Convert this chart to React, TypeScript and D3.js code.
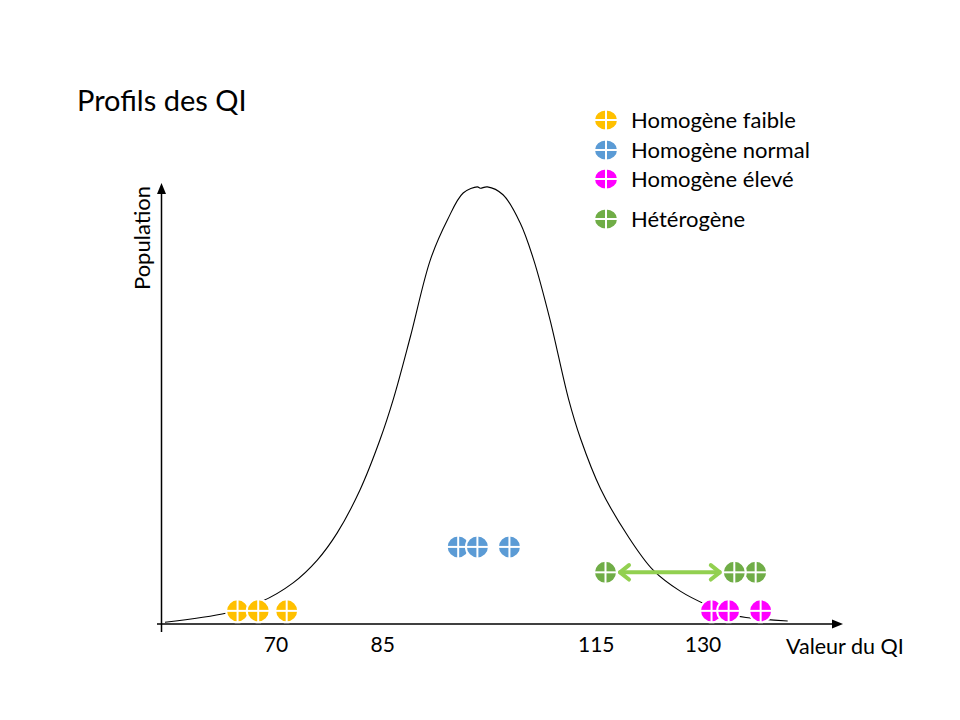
import React from "react";
import * as d3 from "d3";

// ---- Data ----
const title = "Profils des QI";
const xAxisLabel = "Valeur du QI";
const yAxisLabel = "Population";
const tickValues = [70, 85, 115, 130];

// Bell curve sketch: IQ value and relative population height (0..100)
const curveIQ = [54.4, 63.1, 67.8, 72.4, 75.8, 78.6, 81.8, 84.6, 86.5, 88.9, 91.7, 94.1, 96.3, 98.3, 98.7, 99.7, 101.9, 104.3, 106.2, 108.5, 111.1, 112.8, 115.6, 119.4, 123.0, 126.8, 130.6, 134.3, 141.9];
const curvePop = [0.4, 2.5, 5.0, 9.4, 14.6, 20.8, 30.6, 42.0, 51.4, 65.7, 83.2, 92.3, 98.4, 99.8, 99.5, 99.8, 98.0, 91.6, 83.2, 69.5, 51.4, 42.3, 30.9, 20.2, 12.3, 7.5, 4.3, 2.0, 0.7];

const seriesNames = ["Homogène faible", "Homogène normal", "Homogène élevé", "Hétérogène"];
const seriesColors = ["#FFC000", "#5B9BD5", "#FF00FF", "#70AD47"];
const faibleIQ = [64.6, 67.5, 71.5];
const normalIQ = [95.6, 98.3, 102.8];
const eleveIQ = [131.2, 133.6, 138.1];
const heteroIQ = [116.3, 134.4, 137.4];
const faibleLevel = 3.0;
const normalLevel = 17.6;
const eleveLevel = 3.0;
const heteroLevel = 11.8;

const FONT = "Lato, 'Open Sans', sans-serif";

export default function App() {
  const W = 960;
  const H = 720;
  const x = d3.scaleLinear().domain([70, 130]).range([276, 703]);
  const y = d3.scaleLinear().domain([0, 100]).range([624, 186]);

  const axisY0 = 624;
  const axisX0 = 161.5;

  const line = d3
    .line<number>()
    .x((_, i) => x(curveIQ[i]))
    .y((d) => y(d))
    .curve(d3.curveCatmullRom.alpha(0.5));

  const R = 11.5;
  const marker = (cx: number, cy: number, color: string, key: string, rx = R, ry = R) => (
    <g key={key}>
      <ellipse cx={cx} cy={cy} rx={rx} ry={ry} fill={color} stroke="#fff" strokeWidth={2} />
      <line x1={cx - rx} x2={cx + rx} y1={cy} y2={cy} stroke="#fff" strokeWidth={2} />
      <line x1={cx} x2={cx} y1={cy - ry} y2={cy + ry} stroke="#fff" strokeWidth={2} />
    </g>
  );

  const groups = [
    { vals: faibleIQ, level: faibleLevel, color: seriesColors[0], reverse: false },
    { vals: normalIQ, level: normalLevel, color: seriesColors[1], reverse: false },
    { vals: eleveIQ, level: eleveLevel, color: seriesColors[2], reverse: false },
    { vals: heteroIQ, level: heteroLevel, color: seriesColors[3], reverse: true },
  ];

  // double arrow between heterogeneous markers
  const ay = y(heteroLevel);
  const ax1 = x(heteroIQ[0]) + R + 3;
  const ax2 = x(heteroIQ[1]) - R - 3;
  const head = 9;

  const legendY = [120, 150, 179, 219];

  return (
    <svg
      width={W}
      height={H}
      style={{ position: "absolute", left: 0, top: 0, background: "#fff" }}
      fontFamily={FONT}
    >
      <rect width={W} height={H} fill="#fff" />
      <text x={77} y={111} fontSize={29} fill="#000">
        {title}
      </text>

      {/* axes */}
      <line x1={157} x2={834} y1={axisY0} y2={axisY0} stroke="#000" strokeWidth={1.5} />
      <path d={`M843,${axisY0} L832,${axisY0 - 4.5} L832,${axisY0 + 4.5} Z`} fill="#000" />
      <line x1={axisX0} x2={axisX0} y1={632} y2={192} stroke="#000" strokeWidth={1.5} />
      <path d={`M${axisX0},183 L${axisX0 - 4.5},194 L${axisX0 + 4.5},194 Z`} fill="#000" />

      {/* curve */}
      <path d={line(curvePop) || ""} fill="none" stroke="#000" strokeWidth={1.1} />

      {/* tick labels */}
      {tickValues.map((t) => (
        <text key={t} x={x(t)} y={652} textAnchor="middle" fontSize={21} fill="#000">
          {t}
        </text>
      ))}
      <text x={786} y={654} fontSize={21.5} fill="#000">
        {xAxisLabel}
      </text>
      <text
        transform={`translate(150,${238}) rotate(-90)`}
        textAnchor="middle"
        fontSize={22}
        fill="#000"
      >
        {yAxisLabel}
      </text>

      {/* arrow */}
      <g stroke="#92D050" strokeWidth={4} fill="none" strokeLinecap="round" strokeLinejoin="round">
        <line x1={ax1} x2={ax2} y1={ay} y2={ay} />
        <path d={`M${ax1 + head},${ay - head * 0.8} L${ax1},${ay} L${ax1 + head},${ay + head * 0.8}`} />
        <path d={`M${ax2 - head},${ay - head * 0.8} L${ax2},${ay} L${ax2 - head},${ay + head * 0.8}`} />
      </g>

      {/* markers */}
      {groups.map((g, gi) => {
        const vals = g.reverse ? [...g.vals].reverse() : g.vals;
        return (
          <g key={gi}>
            {vals.map((v, i) => marker(x(v), y(g.level), g.color, `${gi}-${i}`))}
          </g>
        );
      })}

      {/* legend */}
      {seriesNames.map((n, i) => (
        <g key={n}>
          {marker(606, legendY[i], seriesColors[i], `lg${i}`, 12, 10.5)}
          <text x={631} y={legendY[i] + 8} fontSize={22} fill="#000">
            {n}
          </text>
        </g>
      ))}
    </svg>
  );
}
